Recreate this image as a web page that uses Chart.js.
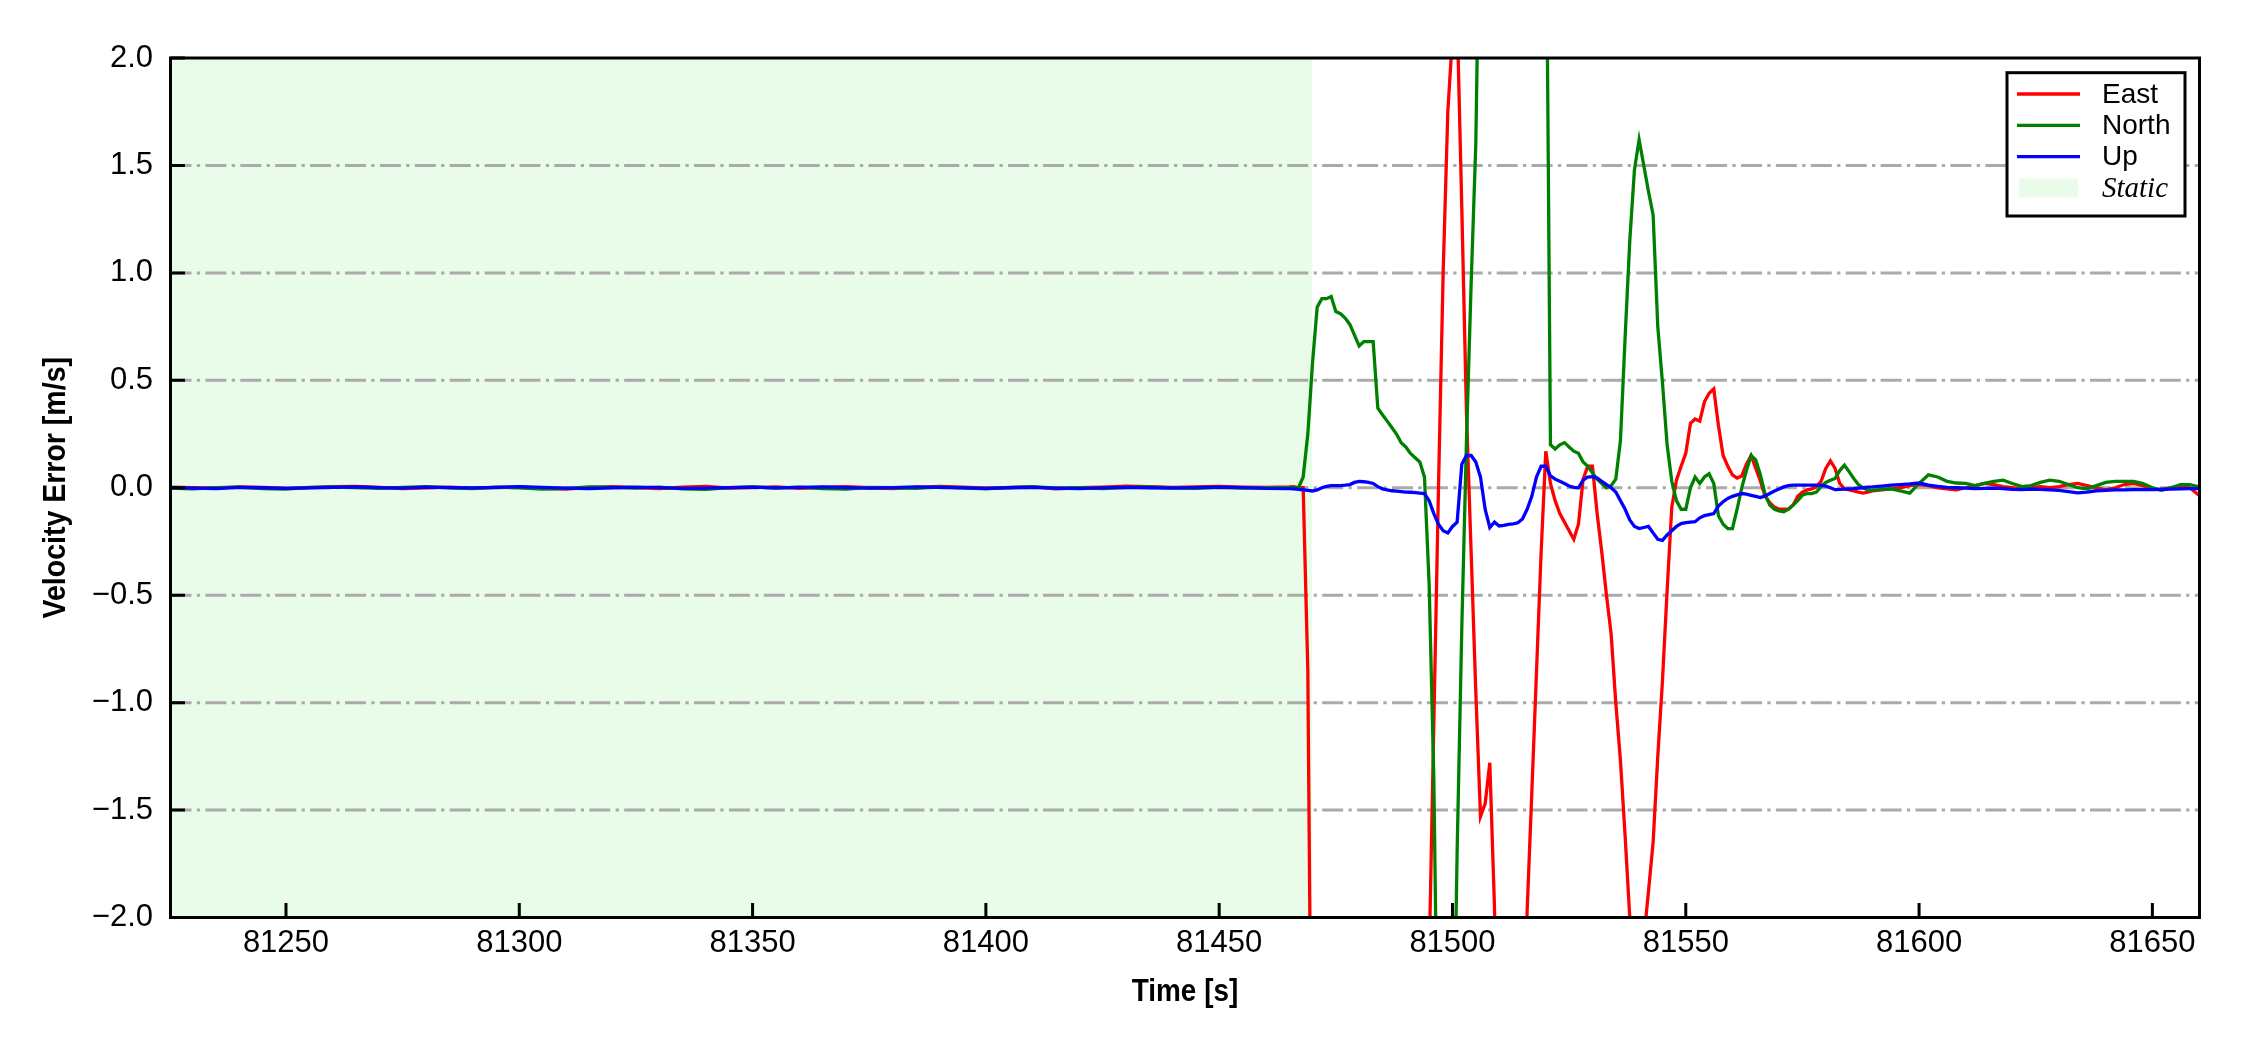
<!DOCTYPE html>
<html>
<head>
<meta charset="utf-8">
<script src="https://cdn.jsdelivr.net/npm/chart.js@4.4.0/dist/chart.umd.min.js"></script>
<style>
  html, body { margin: 0; padding: 0; background: #fff; }
</style>
</head>
<body>
<canvas id="velChart" width="2250" height="1050"></canvas>
<script>
// axis limits and ticks
const xMin = 81225.25, xMax = 81660.1;
const yMin = -2, yMax = 2;
const xTicks = [81250, 81300, 81350, 81400, 81450, 81500, 81550, 81600, 81650];
const yTicks = [-2, -1.5, -1, -0.5, 0, 0.5, 1, 1.5, 2];
const staticEnd = 81470; // end of the static period
const xTitle = 'Time [s]';
const yTitle = 'Velocity Error [m/s]';

const seriesNames = ['East', 'North', 'Up'];
const seriesColors = ['#ff0000', '#008000', '#0000ff'];

// time [s]
const time = [
  81225, 81230, 81235, 81240, 81245, 81250, 81255, 81260, 81265, 81270,
  81275, 81280, 81285, 81290, 81295, 81300, 81305, 81310, 81315, 81320,
  81325, 81330, 81335, 81340, 81345, 81350, 81355, 81360, 81365, 81370,
  81375, 81380, 81385, 81390, 81395, 81400, 81405, 81410, 81415, 81420,
  81425, 81430, 81435, 81440, 81445, 81450, 81455, 81460, 81465,
  81466, 81467, 81468, 81469, 81470, 81471, 81472, 81473, 81474, 81475,
  81476, 81477, 81478, 81479, 81480, 81481, 81482, 81483, 81484, 81485,
  81486, 81487, 81488, 81489, 81490, 81491, 81492, 81493, 81494, 81495,
  81496, 81497, 81498, 81499, 81500, 81501, 81502, 81503, 81504, 81505,
  81506, 81507, 81508, 81509, 81510, 81511, 81512, 81513, 81514, 81515,
  81516, 81517, 81518, 81519, 81520, 81521, 81522, 81523, 81524, 81525,
  81526, 81527, 81528, 81529, 81530, 81531, 81532, 81533, 81534, 81535,
  81536, 81537, 81538, 81539, 81540, 81541, 81542, 81543, 81544, 81545,
  81546, 81547, 81548, 81549, 81550, 81551, 81552, 81553, 81554, 81555,
  81556, 81557, 81558, 81559, 81560, 81561, 81562, 81563, 81564, 81565,
  81566, 81567, 81568, 81569, 81570, 81571, 81572, 81573, 81574, 81575,
  81576, 81577, 81578, 81579, 81580, 81581, 81582, 81583, 81584, 81585,
  81586, 81587, 81588, 81589, 81590,
  81592, 81594, 81596, 81598, 81600, 81602, 81604, 81606, 81608, 81610,
  81612, 81614, 81616, 81618, 81620, 81622, 81624, 81626, 81628, 81630,
  81632, 81634, 81636, 81638, 81640, 81642, 81644, 81646, 81648, 81650,
  81652, 81654, 81656, 81658, 81660
];

// velocity error [m/s]
const east = [
  0.003, 0.001, -0.002, 0.004, 0.002, -0.003, 0.001, 0.005, 0.006, 0.002,
  -0.004, 0.000, 0.003, -0.002, 0.001, 0.004, -0.003, -0.006, 0.002, 0.005,
  0.001, -0.004, 0.003, 0.006, -0.002, 0.001, 0.004, -0.003, 0.002, 0.005,
  0.000, -0.004, 0.002, 0.006, 0.003, -0.002, 0.001, 0.004, -0.005, 0.000,
  0.003, 0.007, 0.005, 0.002, 0.004, 0.006, 0.003, 0.002, 0.004,
  0.005, 0.0, 0.0, -0.85, -3.5, -3.5, -3.5, -3.5, -3.5, -3.5,
  -3.5, -3.5, -3.5, -3.5, -3.5, -3.5, -3.5, -3.5, -3.5, -3.5,
  -3.5, -3.5, -3.5, -3.5, -3.5, -3.5, -3.5, -3.5, -3.5, -2.2,
  -1.1, 0.0, 1.0, 1.75, 2.1, 2.2, 1.3, 0.35, -0.3, -0.95,
  -1.53, -1.47, -1.28, -1.95, -3.0, -3.0, -3.0, -3.0, -3.0, -3.0,
  -1.97, -1.42, -0.86, -0.3, 0.17, 0.02, -0.06, -0.12, -0.16, -0.2,
  -0.24, -0.17, 0.04, 0.1, 0.1, -0.12, -0.3, -0.5, -0.68, -1.0,
  -1.27, -1.62, -2.0, -2.6, -2.6, -2.1, -1.88, -1.65, -1.25, -0.9,
  -0.48, -0.09, 0.035, 0.1, 0.16, 0.3, 0.32, 0.31, 0.4, 0.44,
  0.46, 0.29, 0.15, 0.1, 0.06, 0.045, 0.055, 0.11, 0.15, 0.09,
  0.03, -0.04, -0.07, -0.09, -0.1, -0.1, -0.1, -0.08, -0.04, -0.02,
  -0.01, -0.005, 0.005, 0.03, 0.09, 0.125, 0.09, 0.02, -0.005, -0.01,
  -0.015, -0.02, -0.025, -0.02, -0.015,
  -0.01, -0.005, 0.0, 0.01, 0.015, 0.01, 0.0, -0.005, -0.01, 0.0,
  0.01, 0.02, 0.015, 0.005, 0.0, -0.005, 0.0, 0.005, 0.0, 0.005,
  0.015, 0.02, 0.01, 0.0, -0.01, 0.0, 0.015, 0.02, 0.01, -0.005,
  -0.01, 0.0, 0.005, 0.0, -0.035
];

const north = [
  -0.002, -0.005, 0.001, 0.003, -0.004, -0.006, 0.002, 0.004, 0.001, -0.003,
  0.002, 0.005, -0.001, -0.004, 0.003, 0.000, -0.006, -0.003, 0.004, 0.002,
  -0.002, 0.003, -0.005, -0.007, 0.001, 0.004, -0.002, 0.003, -0.004, -0.006,
  0.002, 0.000, -0.003, 0.004, -0.001, -0.005, 0.002, 0.005, -0.002, 0.001,
  -0.004, 0.002, 0.004, -0.001, -0.003, 0.002, -0.002, 0.001, 0.000,
  0.0, 0.0, 0.05, 0.25, 0.58, 0.84, 0.88, 0.88, 0.89, 0.82,
  0.81, 0.79, 0.76, 0.71, 0.66, 0.68, 0.68, 0.68, 0.37, 0.34,
  0.31, 0.28, 0.25, 0.21, 0.19, 0.16, 0.14, 0.12, 0.05, -0.45,
  -1.35, -3.0, -3.0, -3.0, -3.0, -1.69, -0.65, 0.22, 0.95, 1.6,
  3.0, 3.0, 3.0, 3.0, 3.0, 3.0, 3.0, 3.0, 3.0, 3.0,
  3.0, 3.0, 3.0, 3.0, 3.0, 0.2, 0.18, 0.2, 0.21, 0.19,
  0.17, 0.16, 0.12, 0.1, 0.07, 0.04, 0.02, 0.0, 0.01, 0.04,
  0.22, 0.7, 1.15, 1.48, 1.62, 1.5, 1.38, 1.27, 0.75, 0.49,
  0.2, 0.03, -0.06, -0.1, -0.1, 0.0, 0.05, 0.02, 0.05, 0.065,
  0.02, -0.13, -0.17, -0.19, -0.19, -0.1, 0.0, 0.08, 0.15, 0.13,
  0.06, -0.03, -0.08, -0.1, -0.108, -0.112, -0.1, -0.08, -0.06, -0.035,
  -0.027, -0.027, -0.02, 0.005, 0.025, 0.035, 0.043, 0.08, 0.105, 0.075,
  0.043, 0.015, 0.0, -0.01, -0.012,
  -0.008, -0.005, -0.015, -0.025, 0.02, 0.06, 0.05, 0.03, 0.022, 0.02,
  0.01, 0.02, 0.03, 0.035, 0.02, 0.005, 0.01, 0.025, 0.035, 0.03,
  0.015, 0.0, -0.005, 0.01, 0.025, 0.03, 0.03, 0.03, 0.02, 0.0,
  -0.012, 0.0, 0.015, 0.015, 0.004
];

const up = [
  0.001, -0.002, -0.004, 0.002, 0.000, -0.003, -0.001, 0.002, 0.004, 0.001,
  -0.002, 0.003, 0.001, -0.001, 0.002, 0.005, 0.002, -0.002, -0.004, 0.000,
  0.003, 0.001, -0.003, -0.002, 0.001, 0.003, -0.001, 0.002, 0.004, 0.001,
  -0.002, 0.001, 0.004, 0.002, -0.001, -0.003, 0.000, 0.002, -0.002, -0.004,
  -0.001, 0.002, 0.000, -0.002, 0.001, 0.003, 0.001, -0.003, -0.004,
  -0.005, -0.008, -0.01, -0.012, -0.015, -0.01, 0.0, 0.007, 0.01, 0.01,
  0.01, 0.012, 0.015, 0.025, 0.03, 0.028, 0.025, 0.02, 0.005, -0.005,
  -0.01, -0.014, -0.016, -0.018, -0.02, -0.021, -0.023, -0.025, -0.027, -0.06,
  -0.12, -0.17, -0.2, -0.21, -0.18, -0.16, 0.11, 0.15, 0.15, 0.12,
  0.05, -0.1, -0.185, -0.16, -0.178, -0.175, -0.17, -0.168, -0.163, -0.145,
  -0.1, -0.04, 0.05, 0.1, 0.1, 0.055, 0.04, 0.03, 0.02, 0.008,
  0.002, 0.0, 0.035, 0.05, 0.052, 0.045, 0.03, 0.015, 0.0, -0.02,
  -0.06, -0.1, -0.15, -0.18, -0.19, -0.185, -0.18, -0.21, -0.24, -0.245,
  -0.22, -0.2, -0.18, -0.167, -0.162, -0.16, -0.158, -0.14, -0.13, -0.125,
  -0.12, -0.085, -0.065, -0.05, -0.04, -0.033, -0.027, -0.03, -0.035, -0.04,
  -0.046, -0.038, -0.027, -0.015, -0.006, 0.004, 0.01, 0.012, 0.012, 0.012,
  0.012, 0.012, 0.012, 0.012, 0.008, 0.0, -0.009, -0.008, -0.006, -0.005,
  -0.004, -0.002, 0.0, 0.003, 0.004,
  0.008, 0.012, 0.015, 0.018, 0.022, 0.012, 0.006, 0.002, 0.0, -0.002,
  -0.004, -0.003, -0.002, -0.004, -0.008, -0.009, -0.006, -0.008, -0.01, -0.012,
  -0.018, -0.024, -0.02, -0.014, -0.012, -0.01, -0.01, -0.009, -0.009, -0.009,
  -0.007, -0.006, -0.005, -0.004, -0.004
];

const toPoints = vals => time.map((t, i) => ({ x: t, y: vals[i] }));
const sans = "'Liberation Sans', Arial, sans-serif";
const staticFill = 'rgba(144, 238, 144, 0.2)';

// grid under the lines but over the static band
const gridLines = {
  id: 'gridLines',
  afterDatasetDraw(chart, args) {
    if (args.index !== 3) return;
    const { ctx, chartArea: a, scales: { y } } = chart;
    ctx.save();
    ctx.strokeStyle = '#aaaaaa';
    ctx.lineWidth = 3;
    ctx.setLineDash([21, 5.3, 3.3, 5.3]);
    yTicks.forEach(v => {
      if (v <= yMin || v >= yMax) return;
      const py = y.getPixelForValue(v);
      ctx.beginPath();
      ctx.moveTo(a.left, py);
      ctx.lineTo(a.right, py);
      ctx.stroke();
    });
    ctx.restore();
  }
};

// frame, inward ticks, axis titles (condensed bold) and boxed legend
const frameAndLegend = {
  id: 'frameAndLegend',
  afterDraw(chart) {
    const { ctx, chartArea: a, scales: { x, y } } = chart;
    ctx.save();
    ctx.strokeStyle = '#000';
    ctx.lineWidth = 3;
    ctx.strokeRect(a.left, a.top, a.right - a.left, a.bottom - a.top);
    ctx.beginPath();
    xTicks.forEach(v => {
      const px = x.getPixelForValue(v);
      ctx.moveTo(px, a.bottom);
      ctx.lineTo(px, a.bottom - 14.5);
    });
    yTicks.forEach(v => {
      const py = y.getPixelForValue(v);
      ctx.moveTo(a.left, py);
      ctx.lineTo(a.left + 14.5, py);
    });
    ctx.stroke();

    // axis titles
    ctx.fillStyle = '#000';
    ctx.font = 'bold 31px ' + sans;
    ctx.textAlign = 'center';
    ctx.textBaseline = 'middle';
    ctx.save();
    ctx.translate((a.left + a.right) / 2, a.bottom + 74.5);
    ctx.scale(0.9, 1);
    ctx.fillText(xTitle, 0, 0);
    ctx.restore();
    ctx.save();
    ctx.translate(56, (a.top + a.bottom) / 2);
    ctx.rotate(-Math.PI / 2);
    ctx.scale(0.92, 1);
    ctx.fillText(yTitle, 0, 0);
    ctx.restore();

    // legend
    const bx = a.right - 192.5, by = a.top + 14.7, bw = 178, bh = 143.3;
    ctx.fillStyle = '#fff';
    ctx.fillRect(bx, by, bw, bh);
    ctx.strokeRect(bx, by, bw, bh);
    ctx.textBaseline = 'middle';
    ctx.textAlign = 'left';
    chart.data.datasets.forEach((ds, i) => {
      const ly = by + 21.3 + i * 31.3;
      if (i < 3) {
        ctx.strokeStyle = ds.borderColor;
        ctx.lineWidth = 3.3;
        ctx.beginPath();
        ctx.moveTo(bx + 10, ly);
        ctx.lineTo(bx + 73, ly);
        ctx.stroke();
        ctx.font = '28px ' + sans;
      } else {
        ctx.fillStyle = staticFill;
        ctx.fillRect(bx + 12, ly - 9.5, 59, 19);
        ctx.font = "italic 29px 'Liberation Serif', 'Times New Roman', serif";
      }
      ctx.fillStyle = '#000';
      ctx.fillText(ds.label, bx + 95, ly + 1);
    });
    ctx.restore();
  }
};

const datasets = seriesNames.map((name, i) => ({
  label: name,
  data: toPoints([east, north, up][i]),
  borderColor: seriesColors[i],
  borderWidth: 3.3,
  pointRadius: 0,
  tension: 0,
  fill: false,
  order: 3 - i
}));
datasets.push({
  label: 'Static',
  data: [{ x: xMin, y: yMax }, { x: staticEnd, y: yMax }],
  borderWidth: 0,
  borderColor: 'rgba(0,0,0,0)',
  backgroundColor: staticFill,
  pointRadius: 0,
  fill: 'start',
  order: 10
});

new Chart(document.getElementById('velChart'), {
  type: 'line',
  data: { datasets: datasets },
  options: {
    responsive: false,
    animation: false,
    devicePixelRatio: 1,
    layout: { padding: { top: 58, right: 50.5, bottom: 0, left: 0 } },
    plugins: { legend: { display: false }, tooltip: { enabled: false } },
    scales: {
      x: {
        type: 'linear',
        min: xMin,
        max: xMax,
        afterBuildTicks: s => { s.ticks = xTicks.map(v => ({ value: v })); },
        afterFit: s => { s.height = 132.5; },
        grid: { display: false, drawTicks: false },
        border: { display: false },
        ticks: {
          color: '#000', padding: 7, maxRotation: 0, autoSkip: false,
          font: { size: 31, family: sans },
          callback: v => String(v)
        }
      },
      y: {
        type: 'linear',
        min: yMin,
        max: yMax,
        afterBuildTicks: s => { s.ticks = yTicks.map(v => ({ value: v })); },
        afterFit: s => { s.width = 170.5; },
        grid: { display: false, drawTicks: false },
        border: { display: false },
        ticks: {
          color: '#000', padding: 17.5,
          font: { size: 31, family: sans },
          callback: v => (v < 0 ? '\u2212' : '') + Math.abs(v).toFixed(1)
        }
      }
    }
  },
  plugins: [gridLines, frameAndLegend]
});
</script>
</body>
</html>
